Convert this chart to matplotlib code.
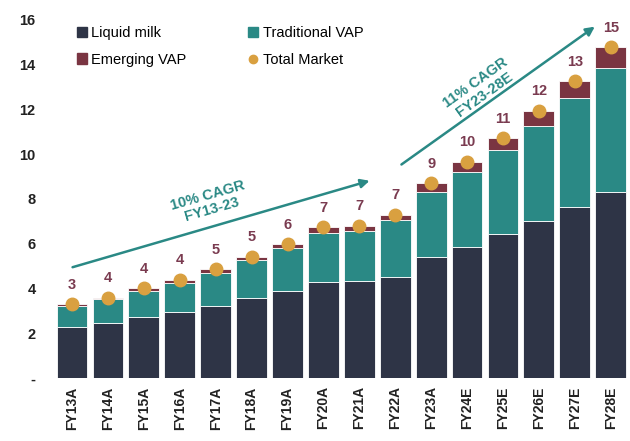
import matplotlib
matplotlib.use('Agg')
import matplotlib.pyplot as plt
from matplotlib.patches import Patch
from matplotlib.lines import Line2D
import numpy as np

plt.rcParams['font.family'] = ['Liberation Sans', 'DejaVu Sans']

years = ['FY13A', 'FY14A', 'FY15A', 'FY16A', 'FY17A', 'FY18A', 'FY19A', 'FY20A',
         'FY21A', 'FY22A', 'FY23A', 'FY24E', 'FY25E', 'FY26E', 'FY27E', 'FY28E']
liquid_milk = [2.29, 2.47, 2.71, 2.93, 3.23, 3.57, 3.90, 4.30,
               4.34, 4.52, 5.38, 5.86, 6.43, 7.01, 7.62, 8.32]
traditional_vap = [0.92, 1.04, 1.19, 1.33, 1.47, 1.70, 1.92, 2.19,
                   2.22, 2.53, 2.94, 3.35, 3.77, 4.25, 4.87, 5.51]
emerging_vap = [0.08, 0.07, 0.10, 0.12, 0.15, 0.14, 0.16, 0.24,
                0.23, 0.23, 0.37, 0.45, 0.50, 0.67, 0.77, 0.93]
labels = ['3', '4', '4', '4', '5', '5', '6', '7', '7', '7', '9', '10', '11', '12', '13', '15']

c_liquid = '#2E3446'
c_trad = '#2A8985'
c_emerg = '#7A3542'
c_dot = '#D9A040'
c_label = '#7A3B50'

fig = plt.figure(figsize=(6.3, 4.41), dpi=100)
ax = fig.add_axes([0.083, 0.143, 0.912, 0.853])

x = np.arange(len(years))
lm = np.array(liquid_milk)
tv = np.array(traditional_vap)
ev = np.array(emerging_vap)
total = lm + tv + ev

w = 0.86
ax.bar(x, lm, w, color=c_liquid, edgecolor='white', linewidth=0.6)
ax.bar(x, tv, w, bottom=lm, color=c_trad, edgecolor='white', linewidth=0.6)
ax.bar(x, ev, w, bottom=lm + tv, color=c_emerg, edgecolor='white', linewidth=0.6)
ax.plot(x, total, 'o', color=c_dot, markersize=9, zorder=5)

for xi, t, lab in zip(x, total, labels):
    ax.annotate(lab, (xi, t), xytext=(0, 14), textcoords='offset points',
                ha='center', va='center', fontsize=10.5, fontweight='bold', color=c_label)

# CAGR arrows
ax.annotate('', xy=(8.36, 8.84), xytext=(-0.06, 4.91),
            arrowprops=dict(arrowstyle='-|>', color=c_trad, lw=1.8, mutation_scale=13))
ax.text(3.84, 7.85, '10% CAGR\nFY13-23', rotation=16, rotation_mode='anchor',
        ha='center', va='center', color=c_trad, fontsize=10.5, fontweight='bold',
        linespacing=1.05)
ax.annotate('', xy=(14.62, 15.76), xytext=(9.11, 9.46),
            arrowprops=dict(arrowstyle='-|>', color=c_trad, lw=1.8, mutation_scale=13))
ax.text(11.36, 12.9, '11% CAGR\nFY23-28E', rotation=35.5, rotation_mode='anchor',
        ha='center', va='center', color=c_trad, fontsize=10.5, fontweight='bold',
        linespacing=1.05)

ax.set_xlim(-0.55, 15.45)
ax.set_ylim(0, 16.8)
ax.set_xticks(x)
ax.set_xticklabels(years, rotation=90, fontsize=10, fontweight='bold', color='#222222')
ax.set_yticks([0, 2, 4, 6, 8, 10, 12, 14, 16])
ax.set_yticklabels(['-', '2', '4', '6', '8', '10', '12', '14', '16'],
                   fontsize=10.5, fontweight='bold', color='#222222')
ax.tick_params(length=0, pad=12)
ax.tick_params(axis='x', pad=6)
for s in ax.spines.values():
    s.set_visible(False)

handles = [Patch(color=c_liquid), Patch(color=c_trad), Patch(color=c_emerg),
           Line2D([], [], marker='o', color=c_dot, linestyle='None', markersize=6)]
names = ['Liquid milk', 'Traditional VAP', 'Emerging VAP', 'Total Market']
order = [0, 2, 1, 3]
ax.legend([handles[i] for i in order], [names[i] for i in order], ncol=2,
          loc='upper left', bbox_to_anchor=(0.025, 0.962), frameon=False,
          fontsize=10.5, handlelength=0.7, handleheight=0.7, handletextpad=0.3,
          columnspacing=4.2, labelspacing=0.85, borderaxespad=0.3)

fig.savefig('out.png', dpi=100)
